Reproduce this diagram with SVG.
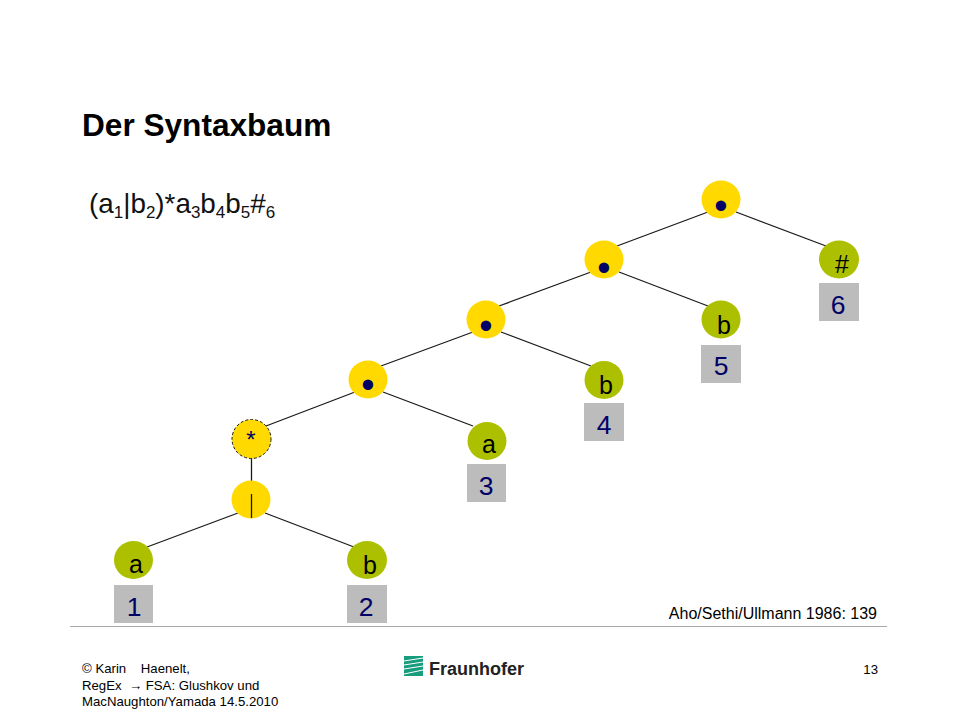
<svg xmlns="http://www.w3.org/2000/svg" width="960" height="720" viewBox="0 0 960 720">
<style>
text{font-family:"Liberation Sans",Arial,sans-serif}
.op{fill:#ffd900}
.leaf{fill:#adc000}
.box{fill:#bcbcbc}
.lt{font-size:25px;fill:#000;text-anchor:middle}
.num{font-size:26.500px;fill:#000066;text-anchor:middle}
.dot{font-size:38px;fill:#000066;text-anchor:middle}
.edge{stroke:#1a1a1a;stroke-width:1.3;fill:none}
.foot{font-size:13.200px;fill:#000;white-space:pre}
.sub{font-size:17px}
</style>
<rect width="960" height="720" fill="#fff"/>
<text x="82" y="136" font-size="31.600" font-weight="bold" fill="#000">Der Syntaxbaum</text>
<text x="89" y="213" font-size="27.800" fill="#111">(a<tspan class="sub" dy="5">1</tspan><tspan dy="-5">|b</tspan><tspan class="sub" dy="5">2</tspan><tspan dy="-5">)*a</tspan><tspan class="sub" dy="5">3</tspan><tspan dy="-5">b</tspan><tspan class="sub" dy="5">4</tspan><tspan dy="-5">b</tspan><tspan class="sub" dy="5">5</tspan><tspan dy="-5">#</tspan><tspan class="sub" dy="5">6</tspan></text>
<g id="connectors">
<line class="edge" x1="708" y1="212" x2="617" y2="246"/>
<line class="edge" x1="736" y1="212" x2="826" y2="246"/>
<line class="edge" x1="591" y1="272" x2="499" y2="306"/>
<line class="edge" x1="619" y1="272" x2="708" y2="306"/>
<line class="edge" x1="473" y1="332" x2="381" y2="366"/>
<line class="edge" x1="501" y1="332" x2="591" y2="366"/>
<line class="edge" x1="355" y1="392" x2="266" y2="426"/>
<line class="edge" x1="383" y1="392" x2="473" y2="426"/>
<line class="edge" x1="251.500" y1="458" x2="251.500" y2="481"/>
<line class="edge" x1="238" y1="513" x2="147" y2="547"/>
<line class="edge" x1="265" y1="513" x2="354" y2="547"/>
</g>
<g id="n-root"><ellipse class="op" cx="721" cy="199.500" rx="19.500" ry="19"/><text class="dot" x="721" y="218.500">•</text></g>
<g id="n-cat2"><ellipse class="op" cx="604" cy="259.500" rx="19.500" ry="19"/><text class="dot" x="604" y="280.500">•</text></g>
<g id="n-cat3"><ellipse class="op" cx="486" cy="319.500" rx="19.500" ry="19"/><text class="dot" x="486" y="338.500">•</text></g>
<g id="n-cat4"><ellipse class="op" cx="368" cy="379.500" rx="19.500" ry="19"/><text class="dot" x="368" y="397.500">•</text></g>
<g id="n-star"><circle class="op" cx="251.500" cy="439" r="19.500" stroke="#1a1a1a" stroke-width="1" stroke-dasharray="3 2"/><text x="251" y="448" font-size="24" fill="#000066" text-anchor="middle">*</text></g>
<g id="n-or"><ellipse class="op" cx="251" cy="499.500" rx="19.500" ry="19"/><line x1="251.500" y1="494" x2="251.500" y2="518" stroke="#1a1a1a" stroke-width="1.300"/></g>
<g id="n-a1"><ellipse class="leaf" cx="133.500" cy="560" rx="19.500" ry="19"/><text class="lt" x="136" y="573">a</text><rect class="box" x="114" y="585" width="39" height="38"/><text class="num" x="134" y="616">1</text></g>
<g id="n-b2"><ellipse class="leaf" cx="367" cy="560" rx="20" ry="19"/><text class="lt" x="370" y="574">b</text><rect class="box" x="347" y="585" width="40" height="38"/><text class="num" x="366" y="616">2</text></g>
<g id="n-a3"><ellipse class="leaf" cx="487" cy="441" rx="19.500" ry="19"/><text class="lt" x="489" y="453">a</text><rect class="box" x="467" y="464" width="39" height="38"/><text class="num" x="486" y="495">3</text></g>
<g id="n-b4"><ellipse class="leaf" cx="604" cy="380" rx="19.500" ry="19"/><text class="lt" x="606" y="394">b</text><rect class="box" x="584" y="403" width="40" height="38"/><text class="num" x="604" y="434">4</text></g>
<g id="n-b5"><ellipse class="leaf" cx="721" cy="319.500" rx="19.500" ry="19"/><text class="lt" x="724" y="334">b</text><rect class="box" x="701" y="345" width="40" height="38"/><text class="num" x="721" y="375">5</text></g>
<g id="n-hash"><ellipse class="leaf" cx="839" cy="259.500" rx="20" ry="19"/><text class="lt" x="842" y="273">#</text><rect class="box" x="819" y="283" width="40" height="38"/><text class="num" x="838" y="314">6</text></g>
<text x="877" y="619" font-size="16" fill="#000" text-anchor="end">Aho/Sethi/Ullmann 1986: 139</text>
<line x1="70" y1="626.500" x2="887" y2="626.500" stroke="#a8a8a8" stroke-width="1"/>
<text class="foot" x="82" y="673">© Karin    Haenelt,</text>
<text class="foot" x="82" y="690">RegEx  → FSA: Glushkov und</text>
<text class="foot" x="82" y="706">MacNaughton/Yamada 14.5.2010</text>
<text class="foot" x="878" y="674" text-anchor="end" font-size="12">13</text>
<g id="logo">
<rect x="404" y="656" width="19" height="20" fill="#179c7d"/>
<path d="M404 661L423 658M404 665L423 662M404 669L423 666M404 674L423 670" stroke="#fff" stroke-width="1" fill="none"/>
<text x="429" y="675" font-size="18" font-weight="bold" fill="#222">Fraunhofer</text>
</g>
</svg>
